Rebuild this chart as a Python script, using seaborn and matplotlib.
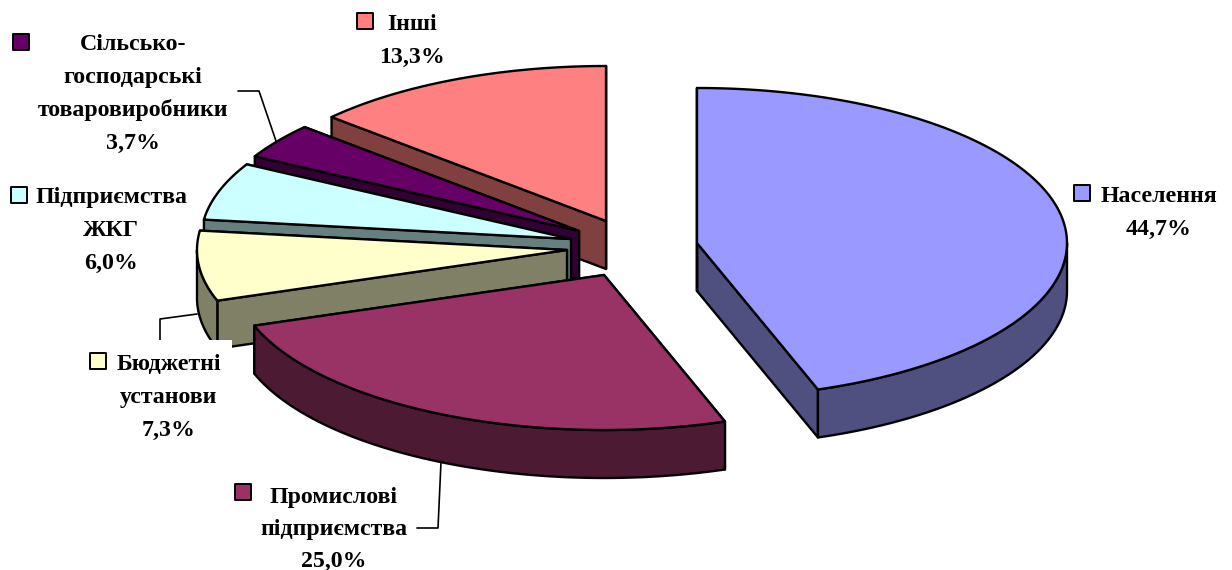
import numpy as np
import pandas as pd
import matplotlib
matplotlib.use("Agg")
import matplotlib.pyplot as plt
from matplotlib.patches import Rectangle
import seaborn as sns

# Structure of consumption, percent, clockwise from twelve o'clock
categories = ["Населення", "Промислові підприємства", "Бюджетні установи",
              "Підприємства ЖКГ", "Сільсько-господарські товаровиробники", "Інші"]
shares = [44.7, 25.0, 7.3, 6.0, 3.7, 13.3]
top_colors = ["#9999FF", "#993366", "#FFFFCC", "#CCFFFF", "#660066", "#FF8080"]
side_colors = ["#4F4F80", "#4D1A33", "#808066", "#668080", "#330033", "#804040"]

# Each slice's apex on the canvas once pulled out of the pie
apex_x = [697, 604, 567, 571, 579, 606]
apex_y = [243, 275, 250, 239, 231, 221]
RX, RY, DEPTH = 370, 155, 48
EDGE = 1.7

label_lines = [["Населення", "44,7%"],
               ["Промислові", "підприємства", "25,0%"],
               ["Бюджетні", "установи", "7,3%"],
               ["Підприємства", "ЖКГ", "6,0%"],
               ["Сільсько-", "господарські", "товаровиробники", "3,7%"],
               ["Інші", "13,3%"]]
label_x = [1159, 334, 169, 111, 133, 412]
label_y = [197, 497, 364, 197, 44, 24]
line_step = [32, 32, 33, 33, 33, 33]
key_x = [1082, 243, 98, 19, 21, 365]
key_y = [193, 492, 361, 195, 42, 21]

sns.set_theme(style="white")
plt.rcParams["font.family"] = ["Liberation Serif", "DejaVu Serif"]
plt.rcParams["font.weight"] = "bold"

fig = plt.figure(figsize=(12.32, 5.70), dpi=100, facecolor="white")
ax = fig.add_axes([0, 0, 1, 1])
ax.set_xlim(0, 1232)
ax.set_ylim(570, 0)
ax.axis("off")


def rim(cx, cy, a0, a1, n=120):
    t = np.radians(np.linspace(a0, a1, n))
    return cx + RX * np.sin(t), cy - RY * np.cos(t)


def draw_slice(cx, cy, a0, a1, top, side, z):
    style = dict(edgecolor="black", linewidth=EDGE, joinstyle="round", zorder=z)
    # Cut faces running from the apex to the rim, the far one first
    for a in (a1, a0):
        ex, ey = rim(cx, cy, a, a, 1)
        ax.fill([cx, ex[0], ex[0], cx], [cy, ey[0], ey[0] + DEPTH, cy + DEPTH],
                facecolor=side, **style)
    # Outer wall, only along the front half of the ellipse
    lo, hi = max(a0, 90), min(a1, 270)
    if hi > lo:
        x, y = rim(cx, cy, lo, hi)
        ax.fill(np.r_[x, x[::-1]], np.r_[y, y[::-1] + DEPTH], facecolor=side, **style)
    # Top surface
    x, y = rim(cx, cy, a0, a1)
    ax.fill(np.r_[cx, x], np.r_[cy, y], facecolor=top, **style)


edges = np.r_[0, np.cumsum(shares)] * 3.6
# Back slices first so that the nearer ones overlap them
order = [5, 4, 3, 2, 1, 0]
for rank, i in enumerate(order):
    draw_slice(apex_x[i], apex_y[i], edges[i], edges[i + 1],
               top_colors[i], side_colors[i], z=2 + rank * 0.1)

# Leader lines
leaders = [([197, 160, 160], [314, 319, 345]),
           ([238, 259, 276], [91, 91, 141]),
           ([417, 438, 441], [528, 528, 462])]
for lx, ly in leaders:
    ax.plot(lx, ly, color="black", lw=1.2, zorder=3)

# The opaque box behind one of the labels hides part of the pie
ax.add_patch(Rectangle((85, 340), 147, 105, facecolor="white", edgecolor="none", zorder=4))

# Square legend keys
keys = pd.DataFrame({"x": key_x, "y": key_y, "category": categories})
sns.scatterplot(data=keys, x="x", y="y", hue="category", hue_order=categories,
                palette=top_colors, marker="s", s=120, edgecolor="black", linewidth=1.4,
                legend=False, ax=ax, zorder=5, clip_on=False)
ax.set_xlim(0, 1232)
ax.set_ylim(570, 0)

for lines, x, y, step in zip(label_lines, label_x, label_y, line_step):
    for j, line in enumerate(lines):
        ax.text(x, y + j * step, line, ha="center", va="center", fontsize=17.2,
                color="black", fontweight="bold", zorder=6)

fig.savefig("out.png", dpi=100, facecolor="white")
